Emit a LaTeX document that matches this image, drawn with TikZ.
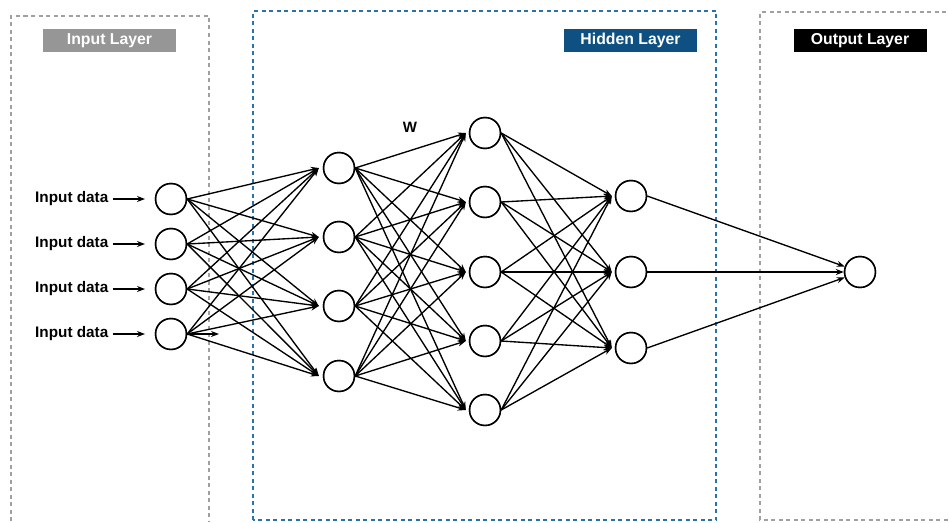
\documentclass[tikz,border=0pt]{standalone}
\usepackage{fontspec}
\setmainfont{Liberation Sans}
\usetikzlibrary{arrows.meta}
\definecolor{boxgray}{RGB}{160,160,160}
\definecolor{labgray}{RGB}{150,150,150}
\definecolor{boxblue}{RGB}{40,115,170}
\definecolor{labblue}{RGB}{14,80,130}
\tikzset{
  neuron/.style={circle,draw=black,line width=1.4pt,minimum size=31pt,inner sep=0pt,fill=white},
  conn/.style={line width=1.35pt,-{Stealth[length=8pt,width=6pt]}},
  layerbox/.style={line width=1.6pt,dash pattern=on 4pt off 3.5pt},
  layerlab/.style={font=\bfseries\fontsize{15.8}{18}\selectfont,text=white,minimum width=133pt,minimum height=23pt,inner sep=0pt},
  inlab/.style={font=\bfseries\fontsize{15.3}{17}\selectfont,anchor=east,inner sep=0pt}
}
\begin{document}
\begin{tikzpicture}[x=1pt,y=-1pt]
\useasboundingbox (0,0) rectangle (949,522);
% layer boxes
\draw[layerbox,boxgray] (11,521) -- (11,16) -- (209,16) -- (209,521);
\draw[layerbox,boxblue] (253,520) -- (253,11) -- (716,11) -- (716,520) -- cycle;
\draw[layerbox,boxgray] (955,520) -- (760,520) -- (760,12) -- (955,12);
% layer labels
\node[layerlab,fill=labgray] (linput) at (109.5,40.5) {Input Layer};
\node[layerlab,fill=labblue] (lhidden) at (630.5,40.5) {Hidden Layer};
\node[layerlab,fill=black] (loutput) at (860,40.5) {Output Layer};
% neurons
\foreach \i/\y in {1/199,2/244,3/289,4/334} \node[neuron] (a\i) at (171,\y) {};
\foreach \i/\y in {1/168,2/237,3/306,4/376} \node[neuron] (b\i) at (339,\y) {};
\foreach \i/\y in {1/133,2/202,3/272,4/341,5/410} \node[neuron] (c\i) at (485,\y) {};
\foreach \i/\y in {1/196,2/272,3/348} \node[neuron] (d\i) at (631,\y) {};
\node[neuron] (e1) at (860,272) {};
% input data labels
\foreach \i/\y in {1/199,2/244,3/289,4/334} {
  \node[inlab] (in\i) at (108.5,\y) {Input data};
  \coordinate (ie\i) at (145,\y);
  \draw[conn] ([xshift=4pt]in\i.east) -- (ie\i);
}
% W label
\node[font=\bfseries\fontsize{15}{17}\selectfont,inner sep=0pt] (w) at (410,127) {W};
% connections
\foreach \i in {1,...,4} \foreach \j in {1,...,4}
  \draw[conn] (a\i.east) -- ([xshift=-4pt]b\j.west);
\coordinate (stub) at (219,334);
\draw[conn] (a4.east) -- (stub);
\foreach \i in {1,...,4} \foreach \j in {1,...,5}
  \draw[conn] (b\i.east) -- ([xshift=-3pt]c\j.west);
\foreach \i in {1,...,5} \foreach \j in {1,...,3}
  \draw[conn] (c\i.east) -- ([xshift=-3pt]d\j.west);
\foreach \i in {1,...,3}
  \draw[conn] (d\i.east) -- (e1);
% redraw neuron outlines on top
\foreach \n in {a1,a2,a3,a4,b1,b2,b3,b4,c1,c2,c3,c4,c5,d1,d2,d3,e1}
  \draw[line width=1.4pt] (\n) circle (15.5pt);
\end{tikzpicture}
\end{document}
